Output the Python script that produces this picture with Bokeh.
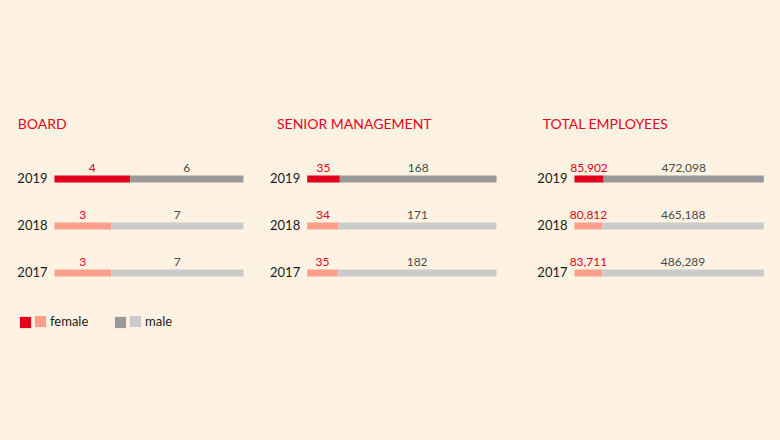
from bokeh.plotting import figure
from bokeh.layouts import row
from bokeh.models import (ColumnDataSource, Range1d, Label, Legend, LegendItem,
                          GlobalInlineStyleSheet)
from bokeh.core.properties import value
from bokeh.embed import file_html
from bokeh.resources import INLINE

# ---------------- data ----------------
years = [2019, 2018, 2017]
titles = ["BOARD", "SENIOR MANAGEMENT", "TOTAL EMPLOYEES"]
board_female = [4, 3, 3]
board_male = [6, 7, 7]
senior_female = [35, 34, 35]
senior_male = [168, 171, 182]
total_female = [85902, 80812, 83711]
total_male = [472098, 465188, 486289]
legend_labels = ["female", "male"]

# ---------------- style ----------------
BG = "#fef3e2"
RED = "#e2001a"
PINK = "#fd9f8c"
DGREY = "#999999"
LGREY = "#cbcbcb"
TITLE_RED = "#e3051b"
FONT = "Lato"

FIG_H = 440
ROW_PX = 47           # pixels per year row
TOP_PX = 178.5        # px from figure top to latest row centre
BAR_PX = 7

panels = [
    # (title, female, male, fig width, bar left px, bar width px, title x px)
    (titles[0], board_female, board_male, 260, 54, 189, 17.3),
    (titles[1], senior_female, senior_male, 260, 46.7, 189.3, 16.5),
    (titles[2], total_female, total_male, 260, 54, 189.3, 22.3),
]

latest = max(years)
y0 = latest - (FIG_H - TOP_PX) / ROW_PX
y1 = latest + TOP_PX / ROW_PX

figs = []
for i, (title, fem, mal, w, left_px, bar_px, tx) in enumerate(panels):
    fshare = [f / (f + m) for f, m in zip(fem, mal)]
    src = ColumnDataSource(dict(
        year=years,
        fshare=fshare,
        fmid=[s / 2 for s in fshare],
        mmid=[(s + 1) / 2 for s in fshare],
        flabel=[f"{v:,}" for v in fem],
        mlabel=[f"{v:,}" for v in mal],
        ylabel=[str(y) for y in years],
        fcolor=[RED if y == latest else PINK for y in years],
        mcolor=[DGREY if y == latest else LGREY for y in years],
    ))
    p = figure(width=w, height=FIG_H, output_backend="svg", toolbar_location=None,
               x_range=Range1d(-left_px / bar_px, (w - left_px) / bar_px),
               y_range=Range1d(y0, y1), min_border=0)
    p.xaxis.visible = False
    p.yaxis.visible = False
    p.grid.visible = False
    p.outline_line_color = None
    p.background_fill_color = BG
    p.border_fill_color = BG

    rf = p.hbar(y="year", left=0, right="fshare", height=BAR_PX / ROW_PX,
                fill_color="fcolor", line_color=None, source=src)
    rm = p.hbar(y="year", left="fshare", right=1, height=BAR_PX / ROW_PX,
                fill_color="mcolor", line_color=None, source=src)

    p.text(x="fmid", y="year", text="flabel", source=src, y_offset=-11,
           text_align="center", text_baseline="middle",
           text_font=value(FONT), text_font_size="12px", text_color=RED)
    p.text(x="mmid", y="year", text="mlabel", source=src, y_offset=-11,
           text_align="center", text_baseline="middle",
           text_font=value(FONT), text_font_size="12px", text_color="#4a4a4a")
    p.text(x=0, y="year", text="ylabel", source=src, x_offset=-7, y_offset=-1,
           text_align="right", text_baseline="middle",
           text_font=value(FONT), text_font_size="13px", text_color="#1a1a1a")

    p.add_layout(Label(x=tx, y=FIG_H - 123.3, x_units="screen", y_units="screen",
                       text=title, text_font=FONT, text_font_size="14px",
                       text_color=TITLE_RED, text_baseline="middle"))

    if i == 0:
        common = dict(orientation="horizontal", glyph_width=14, glyph_height=14,
                      label_standoff=3, spacing=0, label_width=0, padding=0,
                      margin=0, border_line_color=None, background_fill_alpha=0,
                      label_text_font=FONT, label_text_font_size="13px",
                      label_text_color="#1a1a1a")
        # (renderer, row index, label, legend x px)
        entries = [(rf, 0, "", 18), (rf, 1, legend_labels[0], 33),
                   (rm, 0, "", 113), (rm, 1, legend_labels[1], 128)]
        for r, idx, lab, lx in entries:
            p.add_layout(Legend(items=[LegendItem(label=lab, renderers=[r], index=idx)],
                                location=(lx, 111), **common))
    figs.append(p)

p = row(*figs, stylesheets=[GlobalInlineStyleSheet(css=f"body {{ background-color: {BG}; }}")])

open("out.html", "w").write(file_html(p, INLINE))
